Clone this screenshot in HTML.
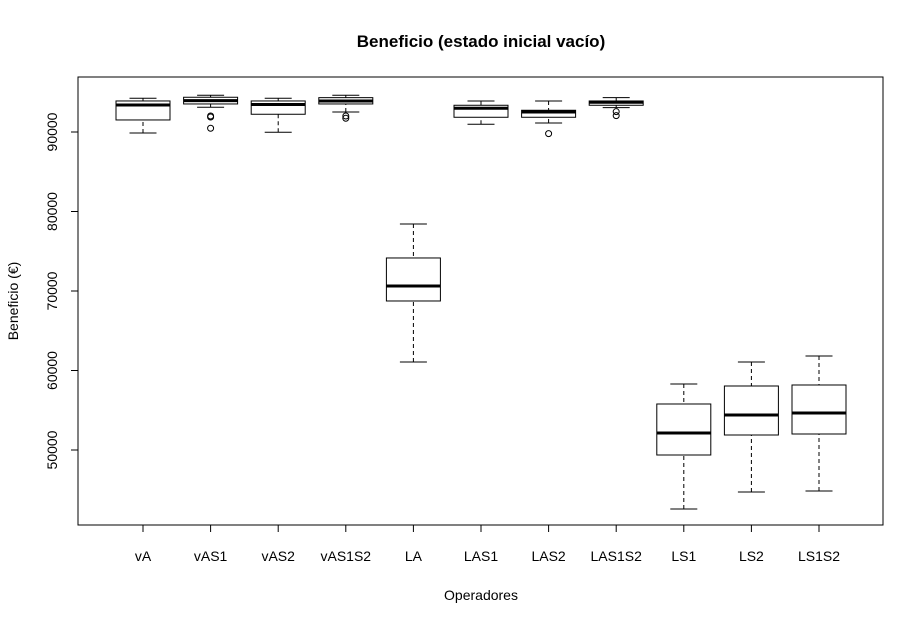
<!DOCTYPE html>
<html><head><meta charset="utf-8"><style>
body{margin:0;background:#fff}
svg text{font-family:"Liberation Sans",Arial,sans-serif;font-size:14px;fill:#000}
</style></head><body>
<svg id="chart" width="924" height="624" xmlns="http://www.w3.org/2000/svg">
<text x="481" y="47" text-anchor="middle" style="font-weight:bold;font-size:17px">Beneficio (estado inicial vacío)</text>
<text x="481" y="600" text-anchor="middle">Operadores</text>
<text transform="translate(18,301) rotate(-90)" text-anchor="middle">Beneficio (€)</text>
<rect x="78" y="77" width="805" height="448" fill="none" stroke="#000"/>
<g id="marks"></g>
</svg>
<script>
const categories=["vA","vAS1","vAS2","vAS1S2","LA","LAS1","LAS2","LAS1S2","LS1","LS2","LS1S2"];
const whiskerLow=[89879,93112,89967,92520,61070,90973,91137,93061,42578,44717,44843];
const q1=[91514,93527,92232,93527,68744,91853,91853,93363,49371,51887,52013];
const medians=[93401,93942,93464,93904,70631,92985,92520,93740,52139,54403,54654];
const q3=[93904,94370,93904,94320,74154,93363,92733,93904,55787,58051,58177];
const whiskerHigh=[94244,94621,94244,94621,78431,93904,93904,94320,58303,61070,61825];
const outlierCat=[1,1,1,3,3,6,7,7];
const outlierVal=[92017,91891,90470,92017,91728,89791,92558,92055];
const yTicks=[50000,60000,70000,80000,90000];
const NS="http://www.w3.org/2000/svg";
const g=document.getElementById("marks");
const xS=i=>143+i*67.6;
const yS=v=>450-(v-50000)*0.00795;
function mk(t,a){const e=document.createElementNS(NS,t);for(const k in a)e.setAttribute(k,a[k]);g.appendChild(e);return e;}
yTicks.forEach(v=>{
 const y=yS(v);
 const l=mk("line",{x1:71,x2:78,y1:y,y2:y,stroke:"#000"});
 
 
 const t=mk("text",{transform:`translate(57,${y}) rotate(-90)`,"text-anchor":"middle"});
 t.textContent=v;
 
 
});
mk("line",{x1:78,x2:78,y1:yS(50000),y2:yS(90000),stroke:"#000"});
categories.forEach((c,i)=>{
 const x=xS(i);
 const tk=mk("line",{x1:x,x2:x,y1:525,y2:532,stroke:"#000"});
 
 
 const t=mk("text",{x:x,y:561,"text-anchor":"middle"});t.textContent=c;
 
 
 const d="4,3";
 const w1=mk("line",{x1:x,x2:x,y1:yS(whiskerLow[i]),y2:yS(q1[i]),stroke:"#000","stroke-dasharray":d});
 
 
 const w2=mk("line",{x1:x,x2:x,y1:yS(whiskerHigh[i]),y2:yS(q3[i]),stroke:"#000","stroke-dasharray":d});
 
 
 [whiskerLow[i],whiskerHigh[i]].forEach(v=>{
  const cp=mk("line",{x1:x-13.5,x2:x+13.5,y1:yS(v),y2:yS(v),stroke:"#000"});
  
  
 });
 const b=mk("rect",{x:x-27,width:54,y:yS(q3[i]),height:yS(q1[i])-yS(q3[i]),fill:"none",stroke:"#000"});
 
 
 const m=mk("line",{x1:x-27,x2:x+27,y1:yS(medians[i]),y2:yS(medians[i]),stroke:"#000","stroke-width":3});
 
 
});
outlierVal.forEach((v,k)=>{
 const o=mk("circle",{cx:xS(outlierCat[k]),cy:yS(v),r:3,fill:"none",stroke:"#000"});
 
 
});
</script>
</body></html>
